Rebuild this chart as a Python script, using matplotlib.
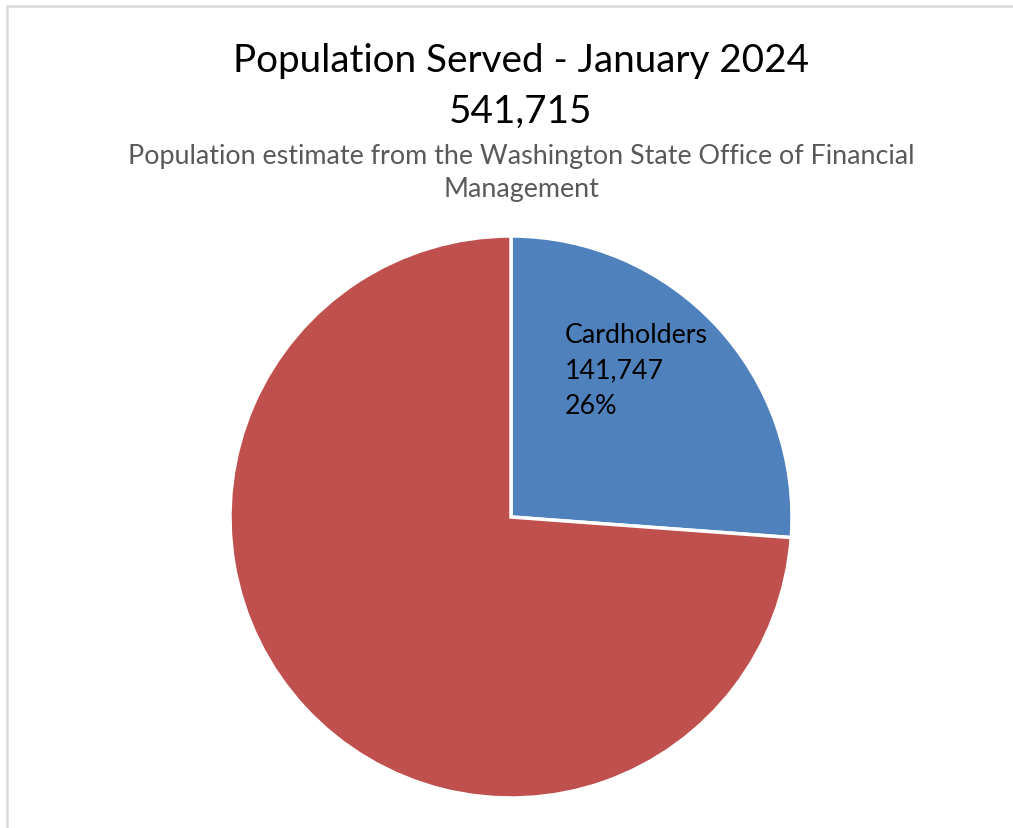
import matplotlib
matplotlib.use("Agg")
import matplotlib.pyplot as plt
from matplotlib.patches import Rectangle

plt.rcParams['font.family'] = ['Lato', 'DejaVu Sans']

# Population served, January 2024
total_population = 541715
categories = ['Cardholders', 'Non-cardholders']
values = [141747, total_population - 141747]
colors = ['#4f81bd', '#c0504d']
show_label = [True, False]

title = 'Population Served - January 2024'
subtitle_lines = ['Population estimate from the Washington State Office of Financial',
                  'Management']

fig = plt.figure(figsize=(10.13, 8.29), dpi=100)
W, H = 1013, 829

# light frame around the chart area
fig.patches.append(Rectangle((6.5 / W, -0.1), 1.2, 1.1 - 6.5 / H,
                             transform=fig.transFigure, fill=False,
                             edgecolor='#d9d9d9', linewidth=1.8))

ax = fig.add_axes([230 / W, 30 / H, 562 / W, 562 / H])
wedges, _ = ax.pie(values, colors=colors, startangle=90, counterclock=False,
                   wedgeprops=dict(edgecolor='white', linewidth=2.5))
ax.set_xlim(-1, 1)
ax.set_ylim(-1, 1)
ax.set_aspect('equal')

# data label inside the cardholder slice, one line at a time
for w, name, val, show in zip(wedges, categories, values, show_label):
    if not show:
        continue
    pct = val / total_population * 100
    lines = [name, f'{val:,}', f'{pct:.0f}%']
    for i, line in enumerate(lines):
        ax.text(0.192, 0.623 - i * 0.127, line, ha='left', va='baseline',
                fontsize=19.3, color='black')

# title block, centred over the plot area
xc = 521 / W
fig.text(xc, 1 - 72 / H, title, ha='center', va='baseline', fontsize=27.8)
fig.text(xc, 1 - 123 / H, f'{total_population:,}', ha='center', va='baseline',
         fontsize=27.8)
for i, line in enumerate(subtitle_lines):
    fig.text(xc, 1 - (164 + i * 33) / H, line, ha='center', va='baseline',
             fontsize=19.4, color='#595959')

fig.savefig('out.png', dpi=100)
